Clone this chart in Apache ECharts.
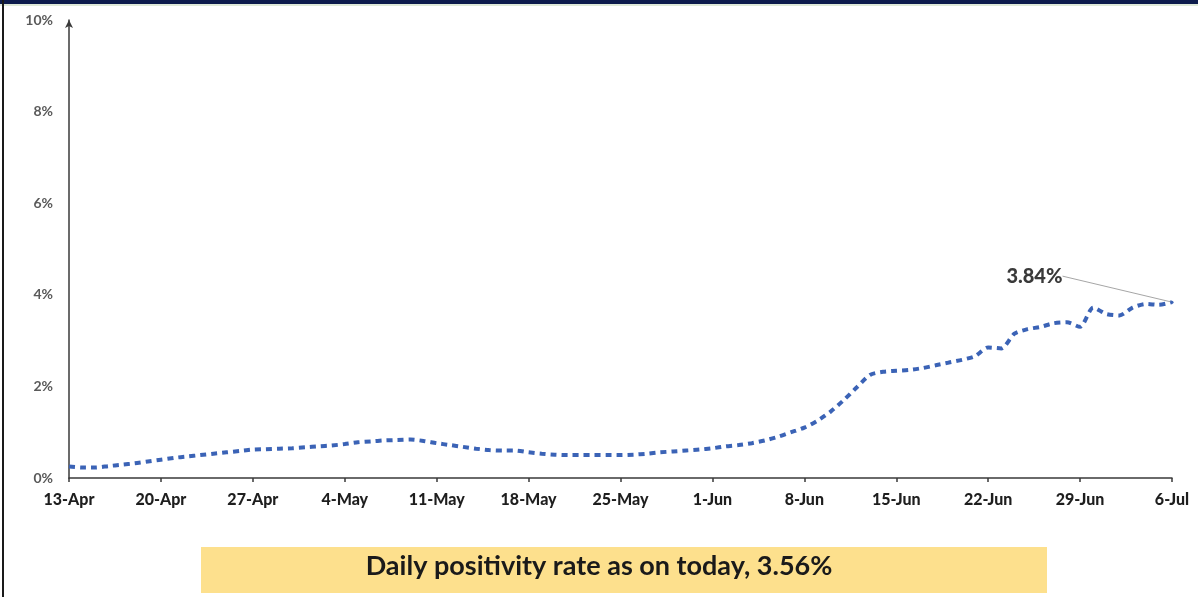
<!DOCTYPE html>
<html>
<head>
<meta charset="utf-8">
<script src="https://cdn.jsdelivr.net/npm/echarts@6/dist/echarts.min.js"></script>
<style>
html,body{margin:0;padding:0;background:#fff;}
#c{width:1198px;height:597px;}
</style>
</head>
<body>
<div id="c"></div>
<script>
// Categories: daily dates 13-Apr .. 6-Jul
const monthNames = ['Apr','May','Jun','Jul'];
const monthDays = [30,31,30,31];
const categories = [];
(function(){
  let m = 0, d = 13;
  for (let i = 0; i < 85; i++) {
    categories.push(d + '-' + monthNames[m]);
    d++;
    if (d > monthDays[m]) { d = 1; m++; }
  }
})();

// Daily positivity rate (%)
const positivity = [
  0.25, 0.23, 0.23, 0.26, 0.29, 0.32, 0.36, 0.40,
  0.44, 0.47, 0.50, 0.53, 0.56, 0.59, 0.62,
  0.63, 0.64, 0.65, 0.67, 0.69, 0.71, 0.74,
  0.78, 0.80, 0.82, 0.83, 0.84, 0.81, 0.76,
  0.72, 0.68, 0.64, 0.61, 0.60, 0.60, 0.56,
  0.53, 0.51, 0.50, 0.50, 0.50, 0.50, 0.50,
  0.51, 0.53, 0.56, 0.58, 0.60, 0.62, 0.65,
  0.69, 0.72, 0.76, 0.82, 0.90, 1.00, 1.10,
  1.25, 1.45, 1.70, 1.98, 2.25, 2.32, 2.34,
  2.36, 2.40, 2.46, 2.52, 2.58, 2.66, 2.85,
  2.83, 3.15, 3.25, 3.30, 3.38, 3.40, 3.30,
  3.72, 3.58, 3.55, 3.72, 3.80, 3.78, 3.84
];

const yTicks = ['0%','2%','4%','6%','8%','10%'];
const calloutText = '3.84%';
const bannerText = 'Daily positivity rate as on today, 3.56%';

const seriesData = positivity.map((v, i) => {
  if (i === positivity.length - 1) {
    return {
      value: v,
      symbol: 'circle',
      symbolSize: 3,
      label: { show: true, formatter: calloutText },
      labelLine: { show: true, lineStyle: { color: '#a6a6a6', width: 1 } }
    };
  }
  return v;
});

const chart = echarts.init(document.getElementById('c'), null, { renderer: 'canvas' });
chart.setOption({
  animation: false,
  backgroundColor: '#ffffff',
  grid: { left: 69, right: 26, top: 20, bottom: 119, containLabel: false },
  xAxis: {
    type: 'category',
    data: categories,
    boundaryGap: false,
    axisLine: { show: true, lineStyle: { color: '#3a3a3a', width: 1.5 } },
    axisTick: { show: true, interval: 6, length: 4, inside: false, lineStyle: { color: '#3a3a3a', width: 1.5 } },
    axisLabel: {
      interval: 6,
      margin: 14,
      color: '#1e1e1e',
      fontFamily: 'Lato, "Open Sans", sans-serif',
      fontWeight: 900,
      fontSize: 16,
      showMaxLabel: true
    },
    splitLine: { show: false }
  },
  yAxis: {
    type: 'value',
    min: 0,
    max: 10,
    interval: 2,
    axisLine: { show: true, symbol: ['none', 'arrow'], symbolSize: [6, 8], lineStyle: { color: '#3a3a3a', width: 1.5 } },
    axisTick: { show: false },
    axisLabel: {
      margin: 16,
      color: '#5a5a5a',
      fontFamily: 'Lato, "Open Sans", sans-serif',
      fontWeight: 'bold',
      fontSize: 14,
      formatter: function (v) { return yTicks[Math.round(v / 2)]; }
    },
    splitLine: { show: false }
  },
  series: [{
    type: 'line',
    data: seriesData,
    smooth: 0.25,
    showSymbol: true,
    showAllSymbol: true,
    symbol: 'none',
    itemStyle: { color: '#3b63b6' },
    lineStyle: { color: '#3b63b6', width: 4, type: [6, 5], cap: 'butt' },
    label: {
      show: false,
      color: '#3a3a3a',
      fontFamily: 'Lato, "Open Sans", sans-serif',
      fontWeight: 900,
      fontSize: 20,
      position: 'left'
    },
    labelLayout: { dx: -103, dy: -26 },
    emphasis: { disabled: true }
  }],
  graphic: [
    { type: 'rect', left: 0, top: 0, shape: { width: 1198, height: 4 }, style: { fill: '#0d1b4c' }, z: 10 },
    { type: 'rect', left: 0, top: 4, shape: { width: 1198, height: 2 }, style: { fill: '#dfe9d8' }, z: 10 },
    { type: 'rect', left: 2, top: 0, shape: { width: 2, height: 597 }, style: { fill: '#1a1a1a' }, z: 10 },
    { type: 'rect', left: 201, top: 547, shape: { width: 846, height: 46 }, style: { fill: '#fde08d' }, z: 5 },
    {
      type: 'text', left: 'center', top: 553, z: 6,
      style: {
        text: bannerText,
        fill: '#1a1a1a',
        font: 'bold 27px Lato, "Open Sans", sans-serif'
      }
    }
  ]
});
</script>
</body>
</html>
